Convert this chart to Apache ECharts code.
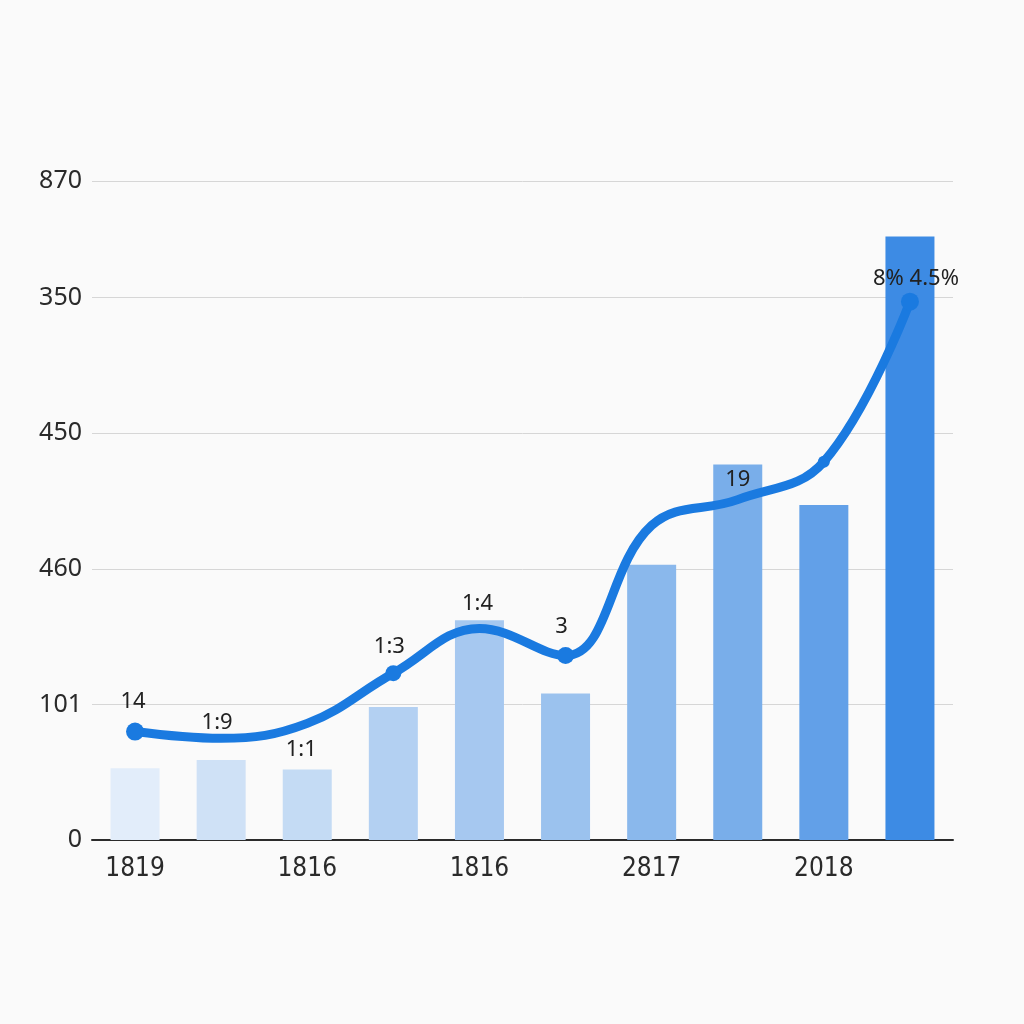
<!DOCTYPE html>
<html>
<head>
<meta charset="utf-8">
<script src="https://cdn.jsdelivr.net/npm/echarts@6/dist/echarts.min.js"></script>
<style>
html,body{margin:0;padding:0;background:#fafafa;}
#c{width:1024px;height:1024px;}
</style>
</head>
<body>
<div id="c"></div>
<script>
// ---- data ----
const categories = ['c1','c2','c3','c4','c5','c6','c7','c8','c9','c10'];
const xTickLabels = ['1819','','1816','','1816','','2817','','2018',''];
const yTickValues = [0, 1, 2, 3, 4, 4.86];
const yTickLabels = ['0','101','460','450','350','870'];
const barValues = [0.53, 0.59, 0.52, 0.98, 1.62, 1.08, 2.03, 2.77, 2.47, 4.45];
const lineValues = [0.80, 0.75, 0.86, 1.23, 1.56, 1.36, 2.32, 2.51, 2.79, 3.97];
const lineLabels = ['14','1:9','1:1','1:3','1:4','3','','19','','8% 4.5%'];

// ---- styling helpers ----
const barColors = ['#e2edfa','#cfe1f6','#c4dbf4','#b3d0f2','#a6c8f0','#9bc2ee','#8ab8ec','#79aeea','#62a0e8','#3d8be4'];
const markerSizes = [18,0,0,16,0,17,0,0,12,18];
const labelPos = ['top','top','bottom','top','top','top','top','top','top','top'];
const labelOffset = [[-2,-5],[-4,0],[-6,10],[-4,-2],[-2,-9],[-4,-4],[0,0],[0,-4],[0,0],[6,2]];

const chart = echarts.init(document.getElementById('c'));
chart.setOption({
  backgroundColor: '#fafafa',
  animation: false,
  grid: {left: 92, right: 71, top: 181, bottom: 184},
  xAxis: {
    type: 'category',
    data: categories,
    axisLine: {lineStyle: {color: '#2b2b2b', width: 2}},
    axisTick: {show: false},
    axisLabel: {
      interval: 0,
      margin: 16,
      fontSize: 26,
      fontFamily: 'Liberation Sans Narrow, DejaVu Sans Condensed, sans-serif',
      color: '#2a2a2a',
      formatter: (v, i) => xTickLabels[i]
    }
  },
  yAxis: {
    type: 'value',
    min: 0,
    max: yTickValues[yTickValues.length - 1],
    interval: 1,
    axisLine: {show: false},
    axisTick: {show: false},
    splitLine: {lineStyle: {color: '#d6d6d6', width: 1}},
    axisLabel: {
      margin: 10,
      fontSize: 25,
      fontFamily: 'Noto Sans, sans-serif',
      color: '#2a2a2a',
      formatter: (v) => {
        let best = 0;
        for (let i = 0; i < yTickValues.length; i++) {
          if (Math.abs(yTickValues[i] - v) < Math.abs(yTickValues[best] - v)) best = i;
        }
        return yTickLabels[best];
      }
    }
  },
  series: [
    {
      type: 'bar',
      barWidth: 49,
      data: barValues.map((v, i) => ({value: v, itemStyle: {color: barColors[i]}})),
      z: 1
    },
    {
      type: 'line',
      smooth: 0.4,
      data: lineValues.map((v, i) => ({
        value: v,
        symbolSize: markerSizes[i],
        label: {
          show: lineLabels[i] !== '',
          position: labelPos[i],
          offset: labelOffset[i],
          formatter: lineLabels[i]
        }
      })),
      symbol: 'circle',
      showAllSymbol: true,
      lineStyle: {color: '#1a7ae0', width: 9},
      itemStyle: {color: '#1a7ae0'},
      label: {
        fontSize: 22,
        fontFamily: 'Noto Sans, sans-serif',
        color: '#222'
      },
      z: 3
    }
  ]
});
</script>
</body>
</html>
